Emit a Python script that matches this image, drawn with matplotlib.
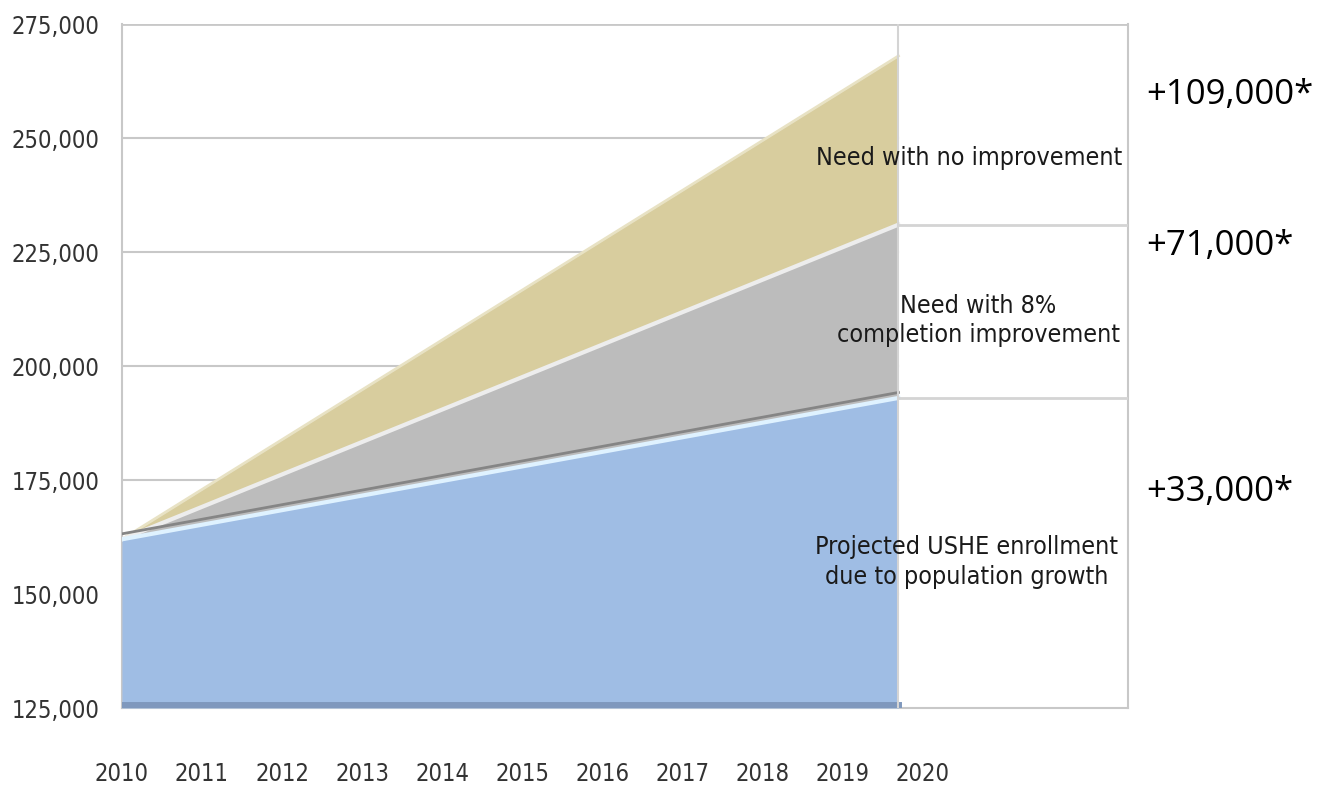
import matplotlib
matplotlib.use("Agg")
import matplotlib.pyplot as plt
from matplotlib import font_manager as fm
from matplotlib.ticker import FuncFormatter

# values
years = [2010, 2019.7]
population_growth = [162000, 193000]
completion_8pct = [162000, 231000]
no_improvement = [162000, 268000]

tick_years = list(range(2010, 2021))
y_ticks = [125000, 150000, 175000, 200000, 225000, 250000, 275000]
y_min, y_max = 125000, 275000
x_right = 2022.57

labels = ["Need with no improvement",
          "Need with 8%\ncompletion improvement",
          "Projected USHE enrollment\ndue to population growth"]
label_pos = [(2020.58, 245600), (2020.7, 210000), (2020.55, 157000)]
increases = ["+109,000*", "+71,000*", "+33,000*"]
increase_y = [0.879, 0.688, 0.376]

# look for a narrow face (the original uses a condensed sans)
narrow_file = None
for f in fm.fontManager.ttflist:
    if f.style != "normal" or f.weight not in (400, "normal", "regular"):
        continue
    if "Narrow" in f.name or "Condensed" in f.name or f.stretch in ("condensed", "semi-condensed"):
        narrow_file = f.fname
        break
if narrow_file:
    narrow = fm.FontProperties(fname=narrow_file)
    tick_size, label_size = 17, 18
else:
    narrow = fm.FontProperties(family="DejaVu Sans")
    tick_size, label_size = 14, 15

grid_col = "#c8c8c8"

fig = plt.figure(figsize=(13.24, 7.88), dpi=100)
ax = fig.add_axes([0.0921, 0.1015, 0.760, 0.868])

# horizontal gridlines only across the data span
for v in y_ticks[1:-1]:
    ax.plot([years[0], years[-1]], [v, v], color=grid_col, lw=1.5, zorder=0)
ax.axhline(y_max, color=grid_col, lw=2, zorder=0)

# stacked areas
ax.fill_between(years, population_growth, no_improvement, color="#d8cd9e", lw=0, zorder=1)
ax.fill_between(years, population_growth, completion_8pct, color="#bcbcbc", lw=0, zorder=2)
ax.fill_between(years, y_min, population_growth, color="#9fbde4", lw=0, zorder=3)

# edge highlights
ax.plot(years, no_improvement, color="#e8e2c4", lw=2, zorder=4)
ax.plot(years, completion_8pct, color="#ededed", lw=3, zorder=4)
ax.plot(years, [v + 1200 for v in population_growth], color="#858585", lw=2, zorder=4)
ax.plot(years, population_growth, color="#dff2ff", lw=3, zorder=5)
ax.plot(years, [y_min + 600, y_min + 600], color="#7f98bd", lw=5, zorder=5)

# right-hand box lines
ax.axvline(years[-1], color="#d4d4d4", lw=1.5, zorder=6)
ax.plot([years[-1], x_right], [completion_8pct[-1]] * 2, color="#d4d4d4", lw=2, zorder=6)
ax.plot([years[-1], x_right], [population_growth[-1]] * 2, color="#d4d4d4", lw=2, zorder=6)

for text, (x, y) in zip(labels, label_pos):
    ax.text(x, y, text, ha="center", va="center", fontproperties=narrow,
            fontsize=label_size, color="#1a1a1a", linespacing=1.3, zorder=7)

ax.set_xlim(2010, x_right)
ax.set_ylim(y_min, y_max)
ax.set_xticks(tick_years)
ax.set_yticks(y_ticks)
ax.yaxis.set_major_formatter(FuncFormatter(lambda v, p: f"{int(v):,}"))
ax.tick_params(length=0, colors="#333333")
ax.tick_params(axis="x", pad=39)
ax.tick_params(axis="y", pad=16)
for lab in ax.get_xticklabels() + ax.get_yticklabels():
    lab.set_fontproperties(narrow)
    lab.set_fontsize(tick_size)

for side in ["left", "bottom", "right", "top"]:
    ax.spines[side].set_color(grid_col)
    ax.spines[side].set_linewidth(1.5)
ax.spines["top"].set_visible(False)

for text, y in zip(increases, increase_y):
    fig.text(0.866, y, text, fontsize=25, family=["Open Sans", "DejaVu Sans"],
             va="center", ha="left", color="black")

fig.savefig("out.png", dpi=100, facecolor="white")
